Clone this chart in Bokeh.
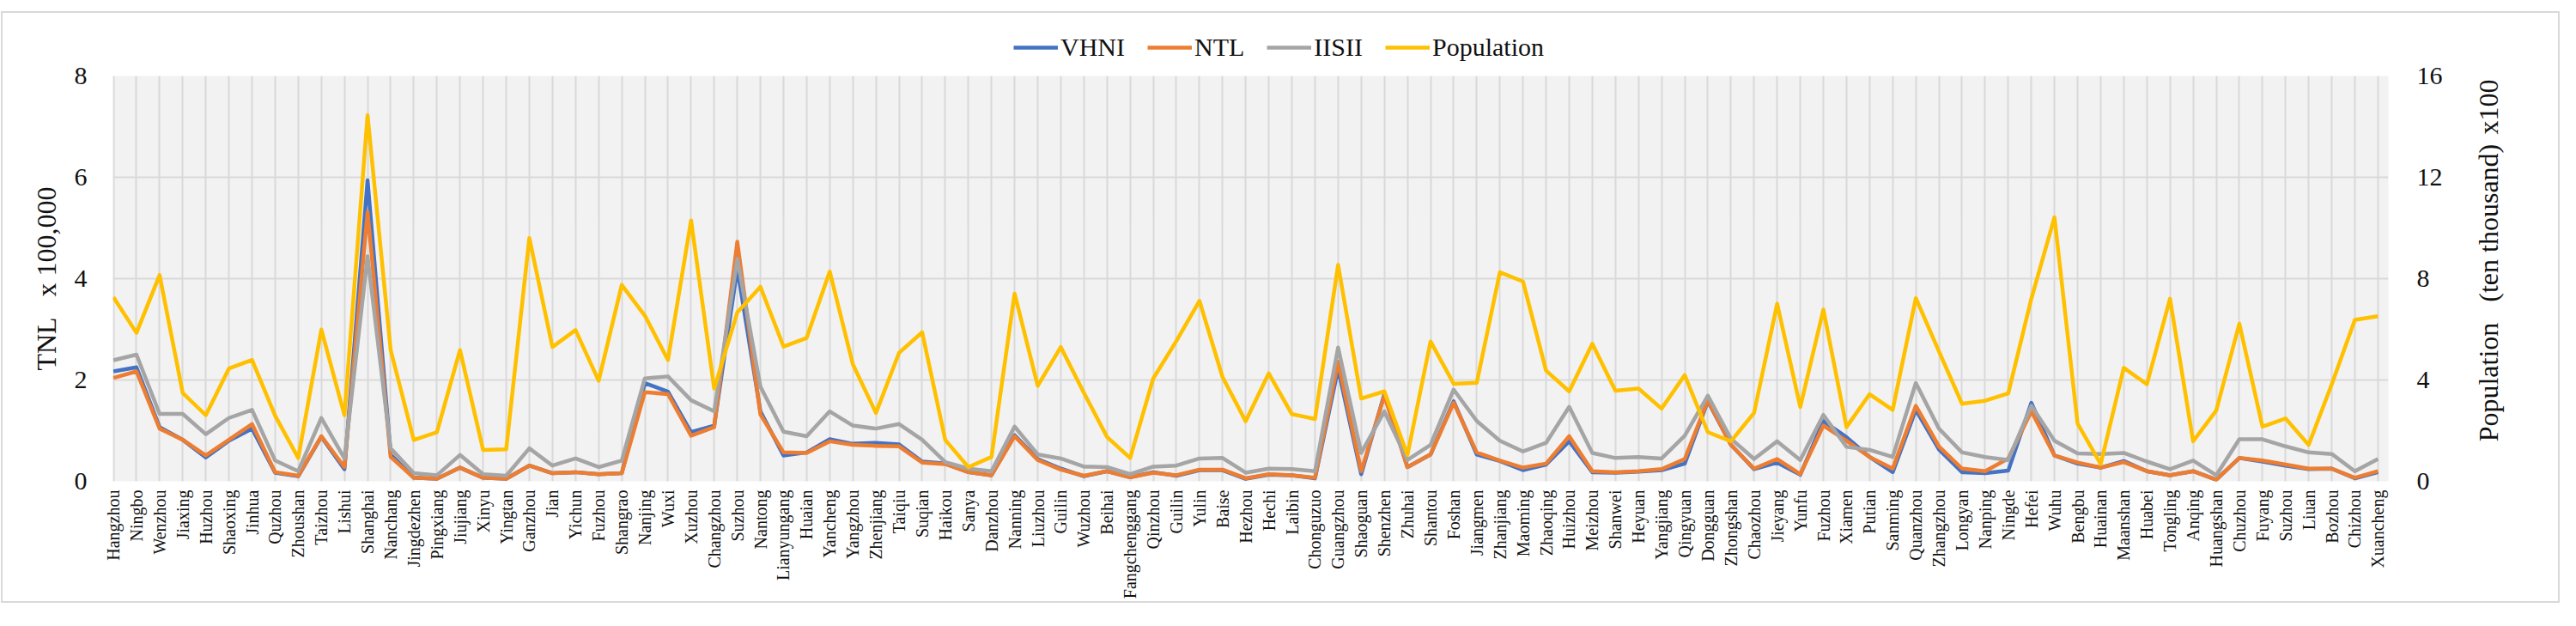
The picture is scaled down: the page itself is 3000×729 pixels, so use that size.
import math
from bokeh.plotting import figure
from bokeh.layouts import column, row
from bokeh.models import Range1d, LinearAxis, FixedTicker, Legend, LegendItem, Label
from bokeh.embed import file_html
from bokeh.resources import INLINE

cities = ["Hangzhou", "Ningbo", "Wenzhou", "Jiaxing", "Huzhou", "Shaoxing", "Jinhua", "Quzhou",
          "Zhoushan", "Taizhou", "Lishui", "Shanghai", "Nanchang", "Jingdezhen", "Pingxiang",
          "Jiujiang", "Xinyu", "Yingtan", "Ganzhou", "Jian", "Yichun", "Fuzhou", "Shangrao",
          "Nanjing", "Wuxi", "Xuzhou", "Changzhou", "Suzhou", "Nantong", "Lianyungang", "Huaian",
          "Yancheng", "Yangzhou", "Zhenjiang", "Taiqiu", "Suqian", "Haikou", "Sanya", "Danzhou",
          "Nanning", "Liuzhou", "Guilin", "Wuzhou", "Beihai", "Fangchenggang", "Qinzhou", "Guilin",
          "Yulin", "Baise", "Hezhou", "Hechi", "Laibin", "Chonguzuo", "Guangzhou", "Shaoguan",
          "Shenzhen", "Zhuhai", "Shantou", "Foshan", "Jiangmen", "Zhanjiang", "Maoming", "Zhaoqing",
          "Huizhou", "Meizhou", "Shanwei", "Heyuan", "Yangjiang", "Qingyuan", "Dongguan",
          "Zhongshan", "Chaozhou", "Jieyang", "Yunfu", "Fuzhou", "Xiamen", "Putian", "Sanming",
          "Quanzhou", "Zhangzhou", "Longyan", "Nanping", "Ningde", "Hefei", "Wuhu", "Bengbu",
          "Huainan", "Maanshan", "Huabei", "Tongling", "Anqing", "Huangshan", "Chuzhou", "Fuyang",
          "Suzhou", "Liuan", "Bozhou", "Chizhou", "Xuancheng"]

vhni = [2.17, 2.25, 1.07, 0.82, 0.47, 0.80, 1.04, 0.17, 0.10, 0.88, 0.24, 5.94, 0.53, 0.07, 0.05,
        0.27, 0.07, 0.05, 0.31, 0.16, 0.18, 0.14, 0.16, 1.94, 1.77, 0.97, 1.10, 4.20, 1.38, 0.51,
        0.57, 0.83, 0.74, 0.76, 0.73, 0.39, 0.35, 0.18, 0.12, 0.91, 0.44, 0.25, 0.10, 0.20, 0.08,
        0.18, 0.11, 0.22, 0.22, 0.05, 0.13, 0.12, 0.06, 2.22, 0.14, 1.72, 0.28, 0.53, 1.58, 0.53,
        0.40, 0.22, 0.33, 0.79, 0.18, 0.17, 0.19, 0.22, 0.35, 1.58, 0.72, 0.24, 0.37, 0.13, 1.19,
        0.87, 0.48, 0.18, 1.41, 0.63, 0.18, 0.16, 0.21, 1.55, 0.51, 0.35, 0.27, 0.40, 0.20, 0.12,
        0.20, 0.03, 0.46, 0.39, 0.31, 0.24, 0.25, 0.06, 0.18]

ntl = [2.04, 2.17, 1.04, 0.82, 0.51, 0.82, 1.13, 0.18, 0.11, 0.89, 0.28, 5.32, 0.48, 0.07, 0.05,
       0.27, 0.07, 0.05, 0.31, 0.16, 0.18, 0.14, 0.16, 1.76, 1.72, 0.90, 1.07, 4.73, 1.32, 0.57,
       0.56, 0.79, 0.72, 0.70, 0.69, 0.37, 0.34, 0.18, 0.12, 0.89, 0.42, 0.23, 0.11, 0.20, 0.08,
       0.17, 0.12, 0.23, 0.23, 0.06, 0.14, 0.12, 0.07, 2.36, 0.20, 1.69, 0.28, 0.53, 1.55, 0.57,
       0.41, 0.27, 0.35, 0.89, 0.20, 0.18, 0.20, 0.24, 0.44, 1.60, 0.72, 0.25, 0.44, 0.14, 1.10,
       0.80, 0.48, 0.25, 1.49, 0.69, 0.25, 0.20, 0.45, 1.38, 0.51, 0.37, 0.27, 0.38, 0.20, 0.12,
       0.20, 0.03, 0.46, 0.41, 0.33, 0.25, 0.25, 0.07, 0.20]

iisii = [2.39, 2.50, 1.33, 1.33, 0.93, 1.25, 1.41, 0.41, 0.20, 1.25, 0.45, 4.44, 0.65, 0.16, 0.12,
         0.52, 0.14, 0.11, 0.65, 0.31, 0.45, 0.28, 0.41, 2.03, 2.07, 1.60, 1.38, 4.39, 1.87, 0.98,
         0.89, 1.38, 1.10, 1.04, 1.13, 0.82, 0.38, 0.25, 0.20, 1.08, 0.53, 0.45, 0.29, 0.28, 0.14,
         0.29, 0.31, 0.45, 0.46, 0.17, 0.25, 0.24, 0.20, 2.64, 0.56, 1.38, 0.42, 0.72, 1.81, 1.19,
         0.80, 0.59, 0.76, 1.47, 0.56, 0.46, 0.48, 0.45, 0.90, 1.69, 0.84, 0.44, 0.79, 0.42, 1.31,
         0.68, 0.62, 0.48, 1.94, 1.04, 0.57, 0.48, 0.42, 1.49, 0.80, 0.55, 0.54, 0.56, 0.39, 0.24,
         0.41, 0.12, 0.83, 0.83, 0.69, 0.57, 0.54, 0.20, 0.44]

population = [7.27, 5.86, 8.14, 3.49, 2.61, 4.45, 4.79, 2.59, 0.92, 5.99, 2.61, 14.45, 5.18, 1.63,
              1.94, 5.18, 1.24, 1.26, 9.60, 5.30, 5.97, 3.97, 7.75, 6.54, 4.79, 10.30, 3.66, 6.67,
              7.68, 5.32, 5.66, 8.28, 4.62, 2.70, 5.07, 5.88, 1.63, 0.56, 0.96, 7.41, 3.77, 5.30,
              3.49, 1.75, 0.92, 4.06, 5.54, 7.12, 4.11, 2.37, 4.26, 2.65, 2.46, 8.54, 3.27, 3.55,
              1.04, 5.52, 3.85, 3.89, 8.25, 7.89, 4.37, 3.55, 5.43, 3.58, 3.66, 2.87, 4.19, 1.94,
              1.58, 2.70, 7.01, 2.93, 6.78, 2.14, 3.44, 2.82, 7.23, 5.13, 3.06, 3.18, 3.47, 7.21,
              10.42, 2.28, 0.68, 4.48, 3.83, 7.21, 1.58, 2.79, 6.22, 2.16, 2.48, 1.44, 3.83, 6.37,
              6.52]

left_ticks = [0, 2, 4, 6, 8]
right_ticks = [0, 4, 8, 12, 16]
series_names = ["VHNI", "NTL", "IISII", "Population"]
series_colors = ["#4472C4", "#ED7D31", "#A5A5A5", "#FFC000"]

FONT = "Liberation Serif"
TEXT = "#111111"
NB = "\u00a0"
idx = list(range(len(cities)))

TOTAL_W = 2976
LEG_H = 57
MAIN_H = 628
MAIN_W = 2860
SIDE_W = TOTAL_W - MAIN_W

# ---------- main chart ----------
p = figure(width=MAIN_W, height=MAIN_H, output_backend="svg", toolbar_location=None,
           x_range=Range1d(-0.02, 98.45), y_range=Range1d(0, 8),
           min_border_left=128, min_border_right=82, min_border_top=16, min_border_bottom=136,
           background_fill_color="#F2F2F2", border_fill_color="white", outline_line_color=None)
p.extra_y_ranges = {"pop": Range1d(0, 16)}

p.xgrid.ticker = FixedTicker(ticks=idx)
p.ygrid.ticker = FixedTicker(ticks=left_ticks)
for g in (p.xgrid, p.ygrid):
    g.grid_line_color = "#D9D9D9"
    g.grid_line_width = 2

p.xaxis.ticker = FixedTicker(ticks=idx)
p.xaxis.major_label_overrides = {i: c for i, c in enumerate(cities)}
p.xaxis.major_label_orientation = math.pi / 2
p.xaxis.major_label_text_font = FONT
p.xaxis.major_label_text_font_size = "20px"
p.xaxis.major_label_text_color = TEXT
p.xaxis.major_label_standoff = 4
p.xaxis.axis_line_color = None
p.xaxis.major_tick_line_color = None
p.xaxis.minor_tick_line_color = None

p.yaxis.ticker = FixedTicker(ticks=left_ticks)
p.yaxis.axis_label = "TNL" + NB * 3 + "x 100,000"
p.yaxis.axis_label_text_font = FONT
p.yaxis.axis_label_text_font_size = "32px"
p.yaxis.axis_label_text_font_style = "normal"
p.yaxis.axis_label_text_color = TEXT
p.yaxis.axis_label_standoff = 12
p.yaxis.major_label_text_font = FONT
p.yaxis.major_label_text_font_size = "30px"
p.yaxis.major_label_text_color = TEXT
p.yaxis.major_label_standoff = 24
p.yaxis.axis_line_color = None
p.yaxis.major_tick_line_color = None
p.yaxis.minor_tick_line_color = None

ra = LinearAxis(y_range_name="pop", ticker=FixedTicker(ticks=right_ticks))
ra.major_label_text_font = FONT
ra.major_label_text_font_size = "30px"
ra.major_label_text_color = TEXT
ra.major_label_standoff = 27
ra.axis_line_color = None
ra.major_tick_line_color = None
ra.minor_tick_line_color = None
p.add_layout(ra, "right")

series = [vhni, ntl, iisii, population]
for name, vals, col in zip(series_names, series, series_colors):
    kw = {"y_range_name": "pop"} if name == "Population" else {}
    p.line(idx, vals, line_color=col, line_width=4.5, line_join="round", **kw)

# ---------- right-hand axis title strip ----------
side = figure(width=SIDE_W, height=MAIN_H, output_backend="svg", toolbar_location=None,
              x_range=Range1d(0, SIDE_W), y_range=Range1d(0, MAIN_H), x_axis_location=None,
              y_axis_location=None, min_border=0, outline_line_color=None,
              background_fill_color="white", border_fill_color="white")
side.grid.visible = False
side.add_layout(Label(x=34, y=292, text="Population" + NB * 3 + "(ten thousand)",
                      angle=math.pi / 2, text_align="center", text_baseline="middle",
                      text_font=FONT, text_font_size="32px", text_color=TEXT))
side.add_layout(Label(x=34, y=580, text="x100", angle=math.pi / 2, text_align="center",
                      text_baseline="middle", text_font=FONT, text_font_size="32px",
                      text_color=TEXT))

# ---------- legend strip above the chart ----------
lf = figure(width=TOTAL_W, height=LEG_H, output_backend="svg", toolbar_location=None,
            x_range=Range1d(0, 1), y_range=Range1d(0, 1), x_axis_location=None,
            y_axis_location=None, min_border=0, outline_line_color=None,
            background_fill_color="white", border_fill_color="white")
lf.grid.visible = False
items = []
for name, col in zip(series_names, series_colors):
    r = lf.line(x=[5, 6], y=[5, 5], line_color=col, line_width=4.5)
    items.append(LegendItem(label=name, renderers=[r]))
legend = Legend(items=items, orientation="horizontal", location=(1177, 0),
                border_line_color=None, background_fill_alpha=0,
                label_text_font=FONT, label_text_font_size="30px", label_text_color=TEXT,
                glyph_width=52, glyph_height=20, label_standoff=3, spacing=26,
                padding=0, margin=0)
lf.add_layout(legend, "center")

layout = column(lf, row(p, side, spacing=0), spacing=0,
                styles={"margin-left": "1px", "margin-top": "13px",
                        "border": "2px solid #D9D9D9", "background": "white"})

open("out.html", "w").write(file_html(layout, INLINE))
